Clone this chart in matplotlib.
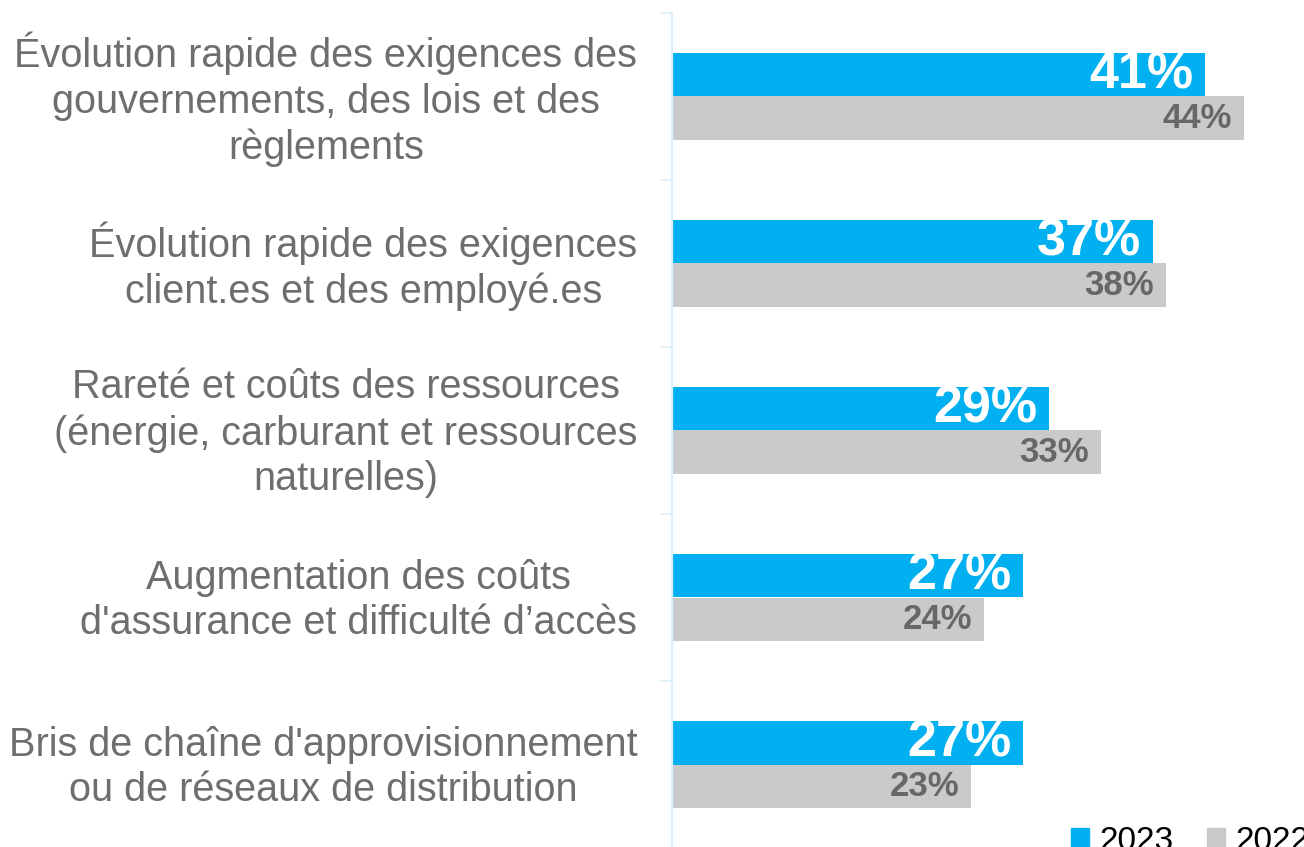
import matplotlib
matplotlib.use("Agg")
import matplotlib.pyplot as plt
from matplotlib.patches import Patch
from matplotlib.transforms import ScaledTranslation

plt.rcParams['font.family'] = ['Liberation Sans', 'DejaVu Sans']

categories = [
    "Évolution rapide des exigences des\ngouvernements, des lois et des\nrèglements",
    "Évolution rapide des exigences\nclient.es et des employé.es",
    "Rareté et coûts des ressources\n(énergie, carburant et ressources\nnaturelles)",
    "Augmentation des coûts\nd'assurance et difficulté d’accès",
    "Bris de chaîne d'approvisionnement\nou de réseaux de distribution",
]
series_names = ["2023", "2022"]
values_2023 = [41, 37, 29, 27, 27]
values_2022 = [44, 38, 33, 24, 23]

blue = '#00B0F0'
grey = '#CACACA'
text_grey = '#6E6E6E'
axis_blue = '#DCEFFA'

W, H = 1304, 847
fig = plt.figure(figsize=(W / 100, H / 100), dpi=100)
ax = fig.add_axes([672 / W, -1 / H, (W - 672) / W, 835 / H])

ypos = list(range(len(categories)))
bh = 0.26
ax.barh([y - bh / 2 for y in ypos], values_2023, height=bh, color=blue, label=series_names[0])
ax.barh([y + bh / 2 for y in ypos], values_2022, height=bh, color=grey, label=series_names[1])

for y, v in zip(ypos, values_2023):
    ax.annotate(f"{v}%", (v, y - bh / 2), xytext=(-8.5, 0), textcoords='offset points',
                ha='right', va='center', color='white', fontsize=37.5, fontweight='bold')
for y, v in zip(ypos, values_2022):
    ax.annotate(f"{v}%", (v, y + bh / 2), xytext=(-8.5, 0), textcoords='offset points',
                ha='right', va='center', color='#676767', fontsize=25, fontweight='bold')

ax.set_xlim(0, (W - 672) / 13)
ax.set_ylim(len(categories) - 0.5, -0.5)

# category labels on major ticks, short pale ticks on the band edges
ax.set_yticks(ypos)
ax.set_yticklabels(categories, fontsize=28.5, color=text_grey, multialignment='center',
                   linespacing=1.25)
ax.tick_params(axis='y', which='major', length=0, pad=25)
shift = ScaledTranslation(0, 5 / 100, fig.dpi_scale_trans)
for lab in ax.get_yticklabels():
    lab.set_transform(lab.get_transform() + shift)
ax.set_yticks([y - 0.5 for y in ypos] + [len(categories) - 0.5], minor=True)
ax.tick_params(axis='y', which='minor', length=8.6, width=1.2, color=axis_blue)
ax.set_xticks([])

for s in ['top', 'right', 'bottom']:
    ax.spines[s].set_visible(False)
ax.spines['left'].set_color(axis_blue)
ax.spines['left'].set_linewidth(1.6)

handles = [Patch(color=blue), Patch(color=grey)]
fig.legend(handles, series_names, loc='upper left', bbox_to_anchor=(1071 / W, 1 - 826 / H),
           ncol=2, frameon=False, fontsize=24, handlelength=0.55, handleheight=0.55,
           handletextpad=0.3, columnspacing=1.0, borderpad=0, borderaxespad=0)

fig.savefig('out.png', dpi=100)
